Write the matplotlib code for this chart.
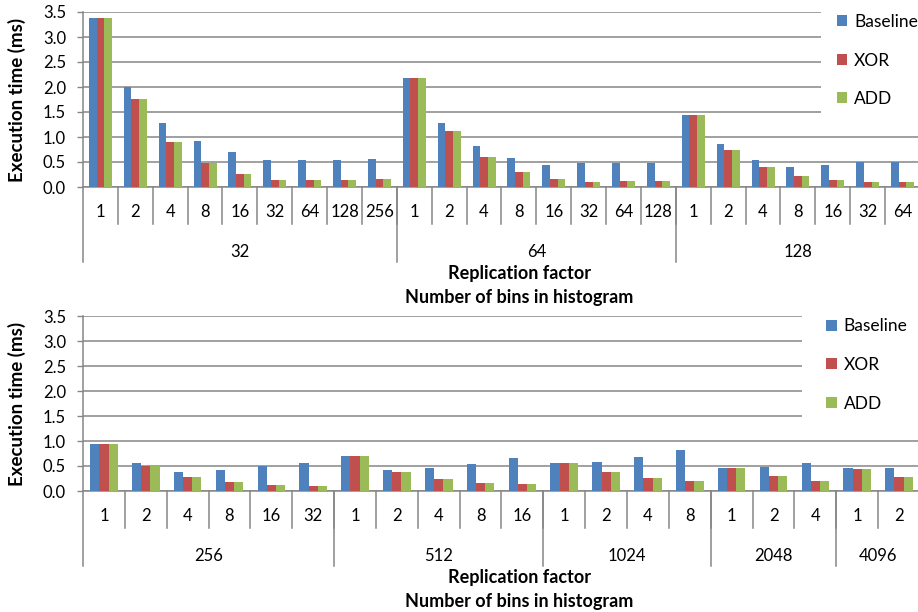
import numpy as np
import matplotlib
matplotlib.use("Agg")
import matplotlib.pyplot as plt
import matplotlib.transforms as mtransforms

plt.rcParams["font.family"] = ["Lato", "DejaVu Sans"]

W, H = 918, 612

SERIES = ["Baseline", "XOR", "ADD"]
COLORS = ["#4F81BD", "#C0504D", "#9BBB59"]

# top panel: 32, 64, 128 bins
top_groups = ["32", "64", "128"]
top_reps = [[1, 2, 4, 8, 16, 32, 64, 128, 256],
            [1, 2, 4, 8, 16, 32, 64, 128],
            [1, 2, 4, 8, 16, 32, 64]]
top_baseline = [3.38, 2.01, 1.29, 0.93, 0.70, 0.54, 0.55, 0.55, 0.57,
                2.18, 1.29, 0.83, 0.59, 0.44, 0.48, 0.48, 0.49,
                1.45, 0.87, 0.55, 0.40, 0.45, 0.51, 0.51]
top_xor = [3.38, 1.76, 0.91, 0.49, 0.26, 0.14, 0.14, 0.15, 0.17,
           2.18, 1.13, 0.60, 0.31, 0.17, 0.11, 0.12, 0.13,
           1.45, 0.75, 0.40, 0.22, 0.15, 0.11, 0.11]
top_add = [3.38, 1.76, 0.91, 0.49, 0.26, 0.14, 0.14, 0.15, 0.17,
           2.18, 1.13, 0.60, 0.31, 0.17, 0.11, 0.12, 0.13,
           1.45, 0.75, 0.40, 0.22, 0.15, 0.11, 0.11]

# bottom panel: 256 .. 4096 bins
bot_groups = ["256", "512", "1024", "2048", "4096"]
bot_reps = [[1, 2, 4, 8, 16, 32],
            [1, 2, 4, 8, 16],
            [1, 2, 4, 8],
            [1, 2, 4],
            [1, 2]]
bot_baseline = [0.95, 0.57, 0.38, 0.43, 0.51, 0.57,
                0.70, 0.43, 0.47, 0.54, 0.67,
                0.57, 0.59, 0.69, 0.83,
                0.46, 0.49, 0.57,
                0.46, 0.47]
bot_xor = [0.95, 0.51, 0.28, 0.19, 0.13, 0.11,
           0.70, 0.38, 0.25, 0.17, 0.14,
           0.57, 0.38, 0.26, 0.20,
           0.46, 0.31, 0.21,
           0.45, 0.29]
bot_add = [0.95, 0.51, 0.28, 0.19, 0.13, 0.11,
           0.70, 0.38, 0.25, 0.17, 0.14,
           0.57, 0.38, 0.26, 0.20,
           0.46, 0.31, 0.21,
           0.45, 0.29]

YTICKS = [0.0, 0.5, 1.0, 1.5, 2.0, 2.5, 3.0, 3.5]
GRAY = "#868686"
BAR_W = 0.22
AX_LEFT, AX_W, AX_H = 83, 837, 175  # pixels


def fx(px):
    return px / W


def fy(py):
    return 1 - py / H


def draw_panel(fig, y0, groups, reps, values, leg_left, leg_cy, leg_pad):
    ax = fig.add_axes([fx(AX_LEFT), fy(y0), AX_W / W, AX_H / H])
    n = sum(len(r) for r in reps)
    x = np.arange(n)
    for i, (name, vals, col) in enumerate(zip(SERIES, values, COLORS)):
        ax.bar(x + (i - 1) * BAR_W, vals, BAR_W, color=col, label=name,
               edgecolor="none", zorder=3)

    ax.set_xlim(-0.5, n - 0.5)
    ax.set_ylim(0, 3.5)
    ax.set_yticks(YTICKS)
    ax.set_yticklabels([f"{t:.1f}" for t in YTICKS])
    ax.yaxis.grid(True, color=GRAY, lw=1.1)
    ax.set_axisbelow(True)
    ax.tick_params(axis="y", direction="out", length=4.3, width=1, color=GRAY,
                   labelsize=12, pad=8)
    ax.set_xticks([])
    for s in ["top", "right"]:
        ax.spines[s].set_visible(False)
    for s in ["left", "bottom"]:
        ax.spines[s].set_color(GRAY)
        ax.spines[s].set_linewidth(1.1)

    ax.set_ylabel("Execution time (ms)", fontsize=13.5, fontweight="bold",
                  va="center")
    ax.yaxis.set_label_coords((17 - AX_LEFT) / AX_W, 0.5)

    # two-level category axis
    trans = mtransforms.blended_transform_factory(ax.transData, ax.transAxes)
    short = -37 / AX_H
    long_ = -75 / AX_H
    start = 0
    labels = [str(r) for g in reps for r in g]
    for xi, lab in zip(x, labels):
        ax.text(xi, -25 / AX_H, lab, transform=trans, ha="center",
                va="center", fontsize=12)
        if xi > 0:
            ax.plot([xi - 0.5, xi - 0.5], [0, short], transform=trans,
                    color=GRAY, lw=1.1, clip_on=False)
    for g, r in zip(groups, reps):
        ax.plot([start - 0.5, start - 0.5], [0, long_], transform=trans,
                color=GRAY, lw=1.1, clip_on=False)
        ax.text(start + (len(r) - 1) / 2, -65 / AX_H, g, transform=trans,
                ha="center", va="center", fontsize=12)
        start += len(r)

    fig.text(fx(519), fy(y0 + 86), "Replication factor", ha="center",
             va="center", fontsize=13, fontweight="bold")
    fig.text(fx(519), fy(y0 + 110), "Number of bins in histogram",
             ha="center", va="center", fontsize=13, fontweight="bold")

    leg = ax.legend(loc="center left", bbox_to_anchor=(fx(leg_left), fy(leg_cy)),
                    bbox_transform=fig.transFigure, borderaxespad=0,
                    frameon=True, fancybox=False, framealpha=1,
                    edgecolor="none", facecolor="white", fontsize=12.5,
                    handlelength=0.6, handleheight=0.6, handletextpad=0.4,
                    labelspacing=1.3, borderpad=leg_pad)
    leg.set_zorder(5)
    return ax


fig = plt.figure(figsize=(W / 100, H / 100), dpi=100)
draw_panel(fig, 187, top_groups, top_reps, [top_baseline, top_xor, top_add],
           821, 60.5, 0.9)
draw_panel(fig, 491, bot_groups, bot_reps, [bot_baseline, bot_xor, bot_add],
           802, 365, 1.4)
fig.savefig("out.png", dpi=100)
